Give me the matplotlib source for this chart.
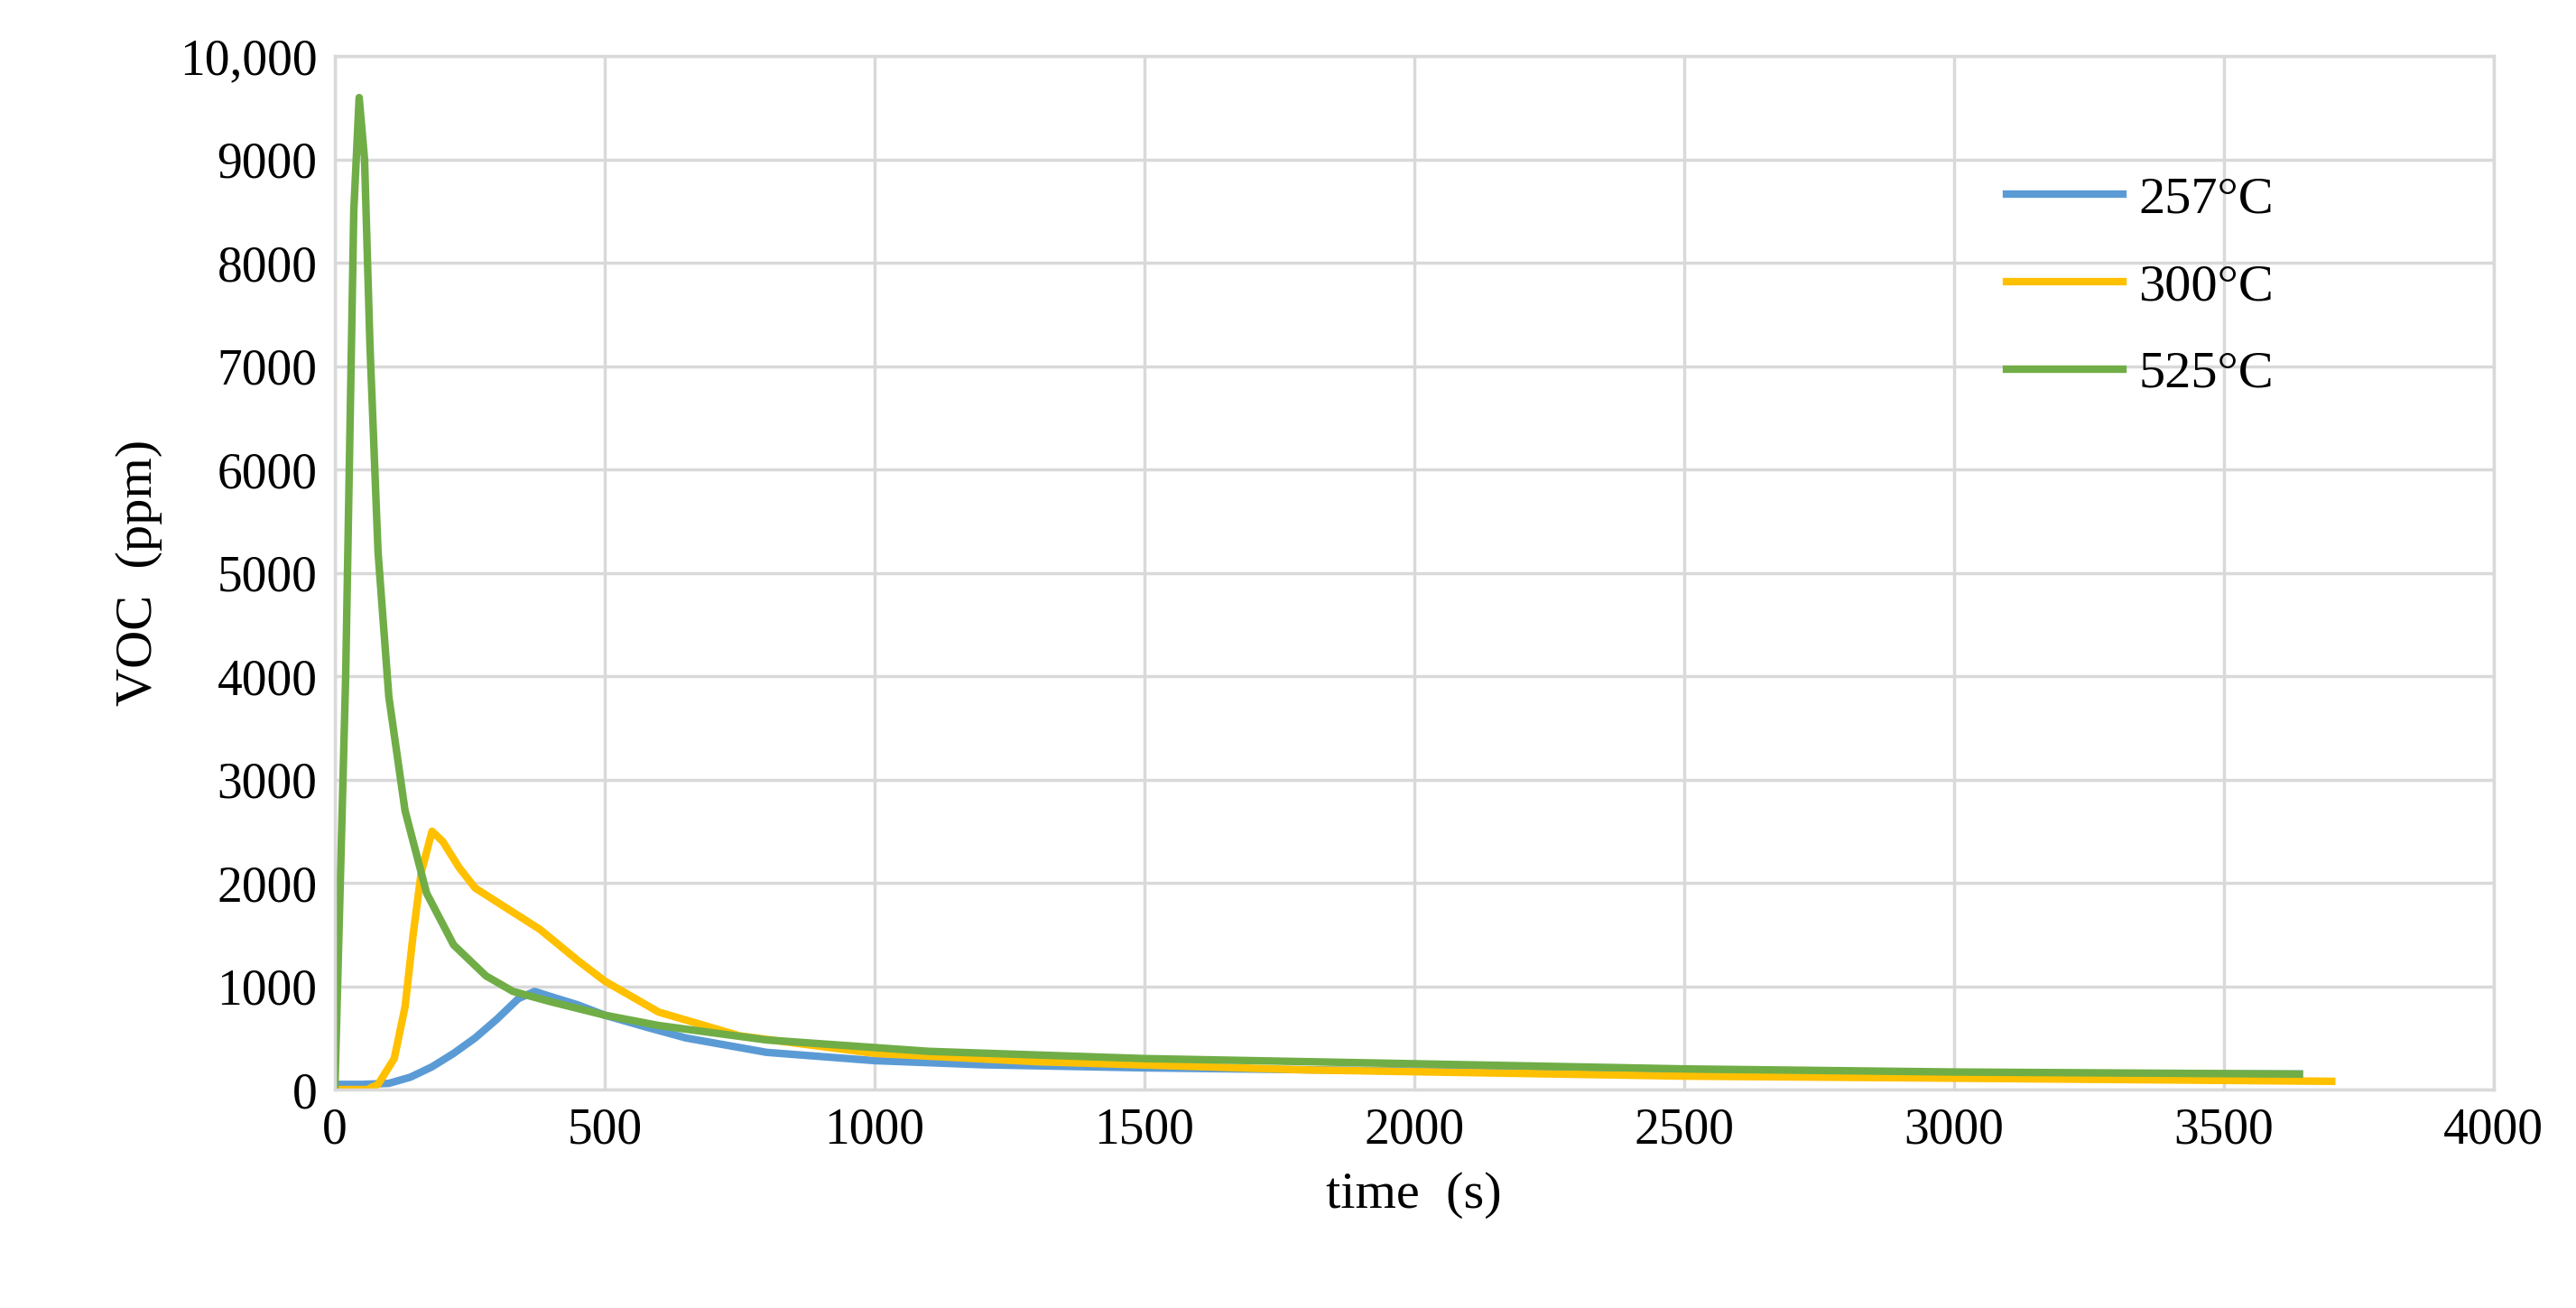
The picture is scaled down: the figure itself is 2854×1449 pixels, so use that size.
import numpy as np
import matplotlib.pyplot as plt
from matplotlib.ticker import FixedLocator, FixedFormatter

plt.rcParams['font.family'] = ['Liberation Serif', 'DejaVu Serif']

# values
t_257 = [0, 50, 100, 140, 180, 220, 260, 300, 340, 370, 400, 450, 500, 580, 650, 800, 1000, 1200, 1500, 2000, 2500, 3000, 3640]
v_257 = [50, 50, 60, 120, 220, 350, 500, 680, 880, 950, 900, 820, 720, 600, 500, 360, 280, 240, 210, 180, 165, 155, 150]

t_300 = [0, 60, 80, 110, 130, 145, 160, 180, 200, 230, 260, 320, 380, 450, 500, 600, 750, 1000, 1300, 1800, 2500, 3000, 3700]
v_300 = [0, 0, 50, 300, 800, 1500, 2100, 2500, 2400, 2150, 1950, 1750, 1550, 1250, 1050, 750, 520, 350, 270, 190, 130, 110, 80]

t_525 = [0, 20, 35, 45, 55, 65, 80, 100, 130, 170, 220, 280, 330, 400, 500, 600, 800, 1100, 1500, 2000, 2500, 3000, 3640]
v_525 = [0, 4000, 8500, 9600, 9000, 7200, 5200, 3800, 2700, 1900, 1400, 1100, 950, 850, 720, 620, 480, 370, 300, 250, 200, 170, 150]

y_ticks = [0, 1000, 2000, 3000, 4000, 5000, 6000, 7000, 8000, 9000, 10000]
y_labels = ['0', '1000', '2000', '3000', '4000', '5000', '6000', '7000', '8000', '9000', '10,000']

fig = plt.figure(figsize=(28.54, 14.49), dpi=100)
ax = fig.add_axes([0.13, 0.167, 0.838, 0.79])

ax.plot(t_257, v_257, color='#5B9BD5', lw=6, label='257°C')
ax.plot(t_300, v_300, color='#FFC000', lw=6, label='300°C')
ax.plot(t_525, v_525, color='#70AD47', lw=6, label='525°C')

ax.set_xlim(0, 4000)
ax.set_ylim(0, 10000)
ax.set_xticks(range(0, 4001, 500))
ax.yaxis.set_major_locator(FixedLocator(y_ticks))
ax.yaxis.set_major_formatter(FixedFormatter(y_labels))
ax.grid(True, color='#D9D9D9', lw=2.5)
ax.set_axisbelow(True)
for s in ax.spines.values():
    s.set_color('#D9D9D9')
    s.set_linewidth(2.5)
ax.tick_params(length=0, labelsize=40, pad=14)
ax.set_xlabel('time  (s)', fontsize=42, labelpad=14)
ax.set_ylabel('VOC  (ppm)', fontsize=42, labelpad=14)

leg = ax.legend(loc='upper right', bbox_to_anchor=(0.92, 0.93), frameon=False,
                fontsize=42, handlelength=2.2, labelspacing=0.75, handletextpad=0.3)

fig.savefig('out.png', dpi=100, facecolor='white')
